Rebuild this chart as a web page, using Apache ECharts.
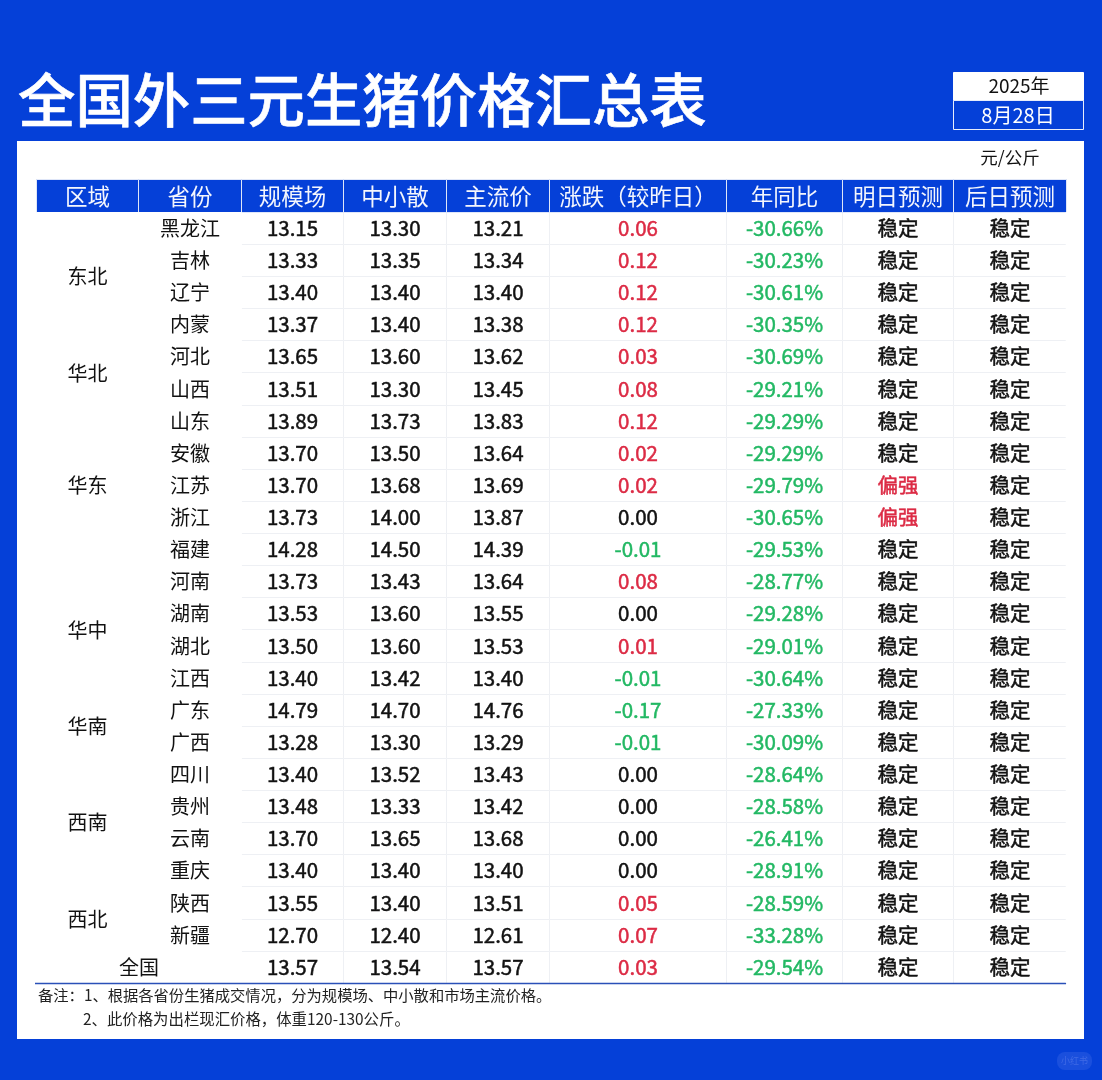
<!DOCTYPE html>
<html>
<head>
<meta charset="utf-8">
<title>全国外三元生猪价格汇总表</title>
<script src="https://cdn.jsdelivr.net/npm/echarts@6/dist/echarts.min.js"></script>
<style>
    html, body { margin: 0; padding: 0; background: #0540d8; }
    #main { width: 1102px; height: 1080px; }
</style>
</head>
<body>
<div id="main"></div>
<script>
var headers = ['区域', '省份', '规模场', '中小散', '主流价', '涨跌（较昨日）', '年同比', '明日预测', '后日预测'];
var provinces = ['黑龙江', '吉林', '辽宁', '内蒙', '河北', '山西', '山东', '安徽', '江苏', '浙江', '福建', '河南',
    '湖南', '湖北', '江西', '广东', '广西', '四川', '贵州', '云南', '重庆', '陕西', '新疆'];
// region name, first row, number of rows
var regions = [['东北', 0, 4], ['华北', 4, 2], ['华东', 6, 5], ['华中', 11, 4], ['华南', 15, 2], ['西南', 17, 4], ['西北', 21, 2]];
var totalLabel = '全国';

// the last value in each array is the 全国 row
var scaleFarm = [13.15, 13.33, 13.40, 13.37, 13.65, 13.51, 13.89, 13.70, 13.70, 13.73, 14.28, 13.73,
    13.53, 13.50, 13.40, 14.79, 13.28, 13.40, 13.48, 13.70, 13.40, 13.55, 12.70, 13.57];
var smallFarm = [13.30, 13.35, 13.40, 13.40, 13.60, 13.30, 13.73, 13.50, 13.68, 14.00, 14.50, 13.43,
    13.60, 13.60, 13.42, 14.70, 13.30, 13.52, 13.33, 13.65, 13.40, 13.40, 12.40, 13.54];
var mainPrice = [13.21, 13.34, 13.40, 13.38, 13.62, 13.45, 13.83, 13.64, 13.69, 13.87, 14.39, 13.64,
    13.55, 13.53, 13.40, 14.76, 13.29, 13.43, 13.42, 13.68, 13.40, 13.51, 12.61, 13.57];
var change = [0.06, 0.12, 0.12, 0.12, 0.03, 0.08, 0.12, 0.02, 0.02, 0.00, -0.01, 0.08,
    0.00, 0.01, -0.01, -0.17, -0.01, 0.00, 0.00, 0.00, 0.00, 0.05, 0.07, 0.03];
var yoy = [-30.66, -30.23, -30.61, -30.35, -30.69, -29.21, -29.29, -29.29, -29.79, -30.65, -29.53, -28.77,
    -29.28, -29.01, -30.64, -27.33, -30.09, -28.64, -28.58, -26.41, -28.91, -28.59, -33.28, -29.54];
var strongTomorrow = ['江苏', '浙江'];
var stable = '稳定', strong = '偏强';

var colSizes = [102, 103, 102, 103, 103, 177, 116, 111, 113];
var blue = '#0540d8', red = '#dc2a44', green = '#22b863', font = 'Noto Sans CJK SC';

var myChart = echarts.init(document.getElementById('main'));

// no medium weight installed, a thin outline in the text colour stands in for it
function cell(col, row, text, color, offsetX) {
    var c = color || '#111';
    return {
        coord: [col, row],
        value: text,
        label: {
            color: c,
            fontSize: 20.5,
            textBorderColor: c,
            textBorderWidth: 0.5,
            offset: [offsetX || 0, -0.5]
        }
    };
}

var bodyData = [];
regions.forEach(function (r) {
    bodyData.push({
        coord: [0, [r[1], r[1] + r[2] - 1]],
        mergeCells: true,
        value: r[0],
        itemStyle: { borderColor: '#fff' }
    });
});
bodyData.push({
    coord: [[0, 1], 23],
    mergeCells: true,
    value: totalLabel,
    itemStyle: { borderColor: '#fff' }
});
provinces.forEach(function (p, i) {
    bodyData.push({ coord: [1, i], value: p, itemStyle: { borderColor: '#fff' } });
});
scaleFarm.forEach(function (v, i) {
    var isStrong = strongTomorrow.indexOf(provinces[i]) >= 0;
    bodyData.push(cell(2, i, v.toFixed(2), '#111', -2));
    bodyData.push(cell(3, i, smallFarm[i].toFixed(2), '#111', -2));
    bodyData.push(cell(4, i, mainPrice[i].toFixed(2), '#111', -2));
    bodyData.push(cell(5, i, change[i].toFixed(2), change[i] > 0 ? red : change[i] < 0 ? green : '#111', -1));
    bodyData.push(cell(6, i, yoy[i].toFixed(2) + '%', green));
    bodyData.push(cell(7, i, isStrong ? strong : stable, isStrong ? red : '#111'));
    bodyData.push(cell(8, i, stable));
});

var option = {
    backgroundColor: blue,
    animation: false,
    textStyle: { fontFamily: font },
    graphic: {
        z: 0,
        elements: [
            { type: 'rect', shape: { x: 17, y: 141, width: 1067, height: 898 }, style: { fill: '#fff' } },
            { type: 'text', x: 18, y: 100, style: { text: '全国外三元生猪价格汇总表', fill: '#fff', stroke: '#fff', lineWidth: 0.6, verticalAlign: 'middle', font: '500 57.4px "Noto Sans CJK SC"' } },
            { type: 'rect', shape: { x: 953.5, y: 72.5, width: 130, height: 28 }, style: { fill: '#fff', stroke: '#fff' } },
            { type: 'rect', shape: { x: 953.5, y: 100.5, width: 130, height: 29 }, style: { fill: blue, stroke: '#e8edfb', lineWidth: 1 } },
            { type: 'text', x: 1019, y: 86, style: { text: '2025年', fill: '#111', align: 'center', verticalAlign: 'middle', font: '400 19px "Noto Sans CJK SC"' } },
            { type: 'text', x: 1018, y: 115, style: { text: '8月28日', fill: '#fff', align: 'center', verticalAlign: 'middle', font: '400 20px "Noto Sans CJK SC"' } },
            { type: 'text', x: 1010, y: 157, style: { text: '元/公斤', fill: '#111', align: 'center', verticalAlign: 'middle', font: '400 17.5px "Noto Sans CJK SC"' } },
            { type: 'text', x: 38, y: 995, style: { text: '备注：1、根据各省份生猪成交情况，分为规模场、中小散和市场主流价格。', fill: '#222', verticalAlign: 'middle', font: '400 15.3px "Noto Sans CJK SC"' } },
            { type: 'text', x: 83, y: 1019, style: { text: '2、此价格为出栏现汇价格，体重120-130公斤。', fill: '#222', verticalAlign: 'middle', font: '400 15.4px "Noto Sans CJK SC"' } },
            { type: 'rect', shape: { x: 1057, y: 1052, width: 35, height: 18, r: 8 }, style: { fill: '#1a4fdd' } },
            { type: 'text', x: 1074.5, y: 1061, style: { text: '小红书', fill: '#3f6ae6', align: 'center', verticalAlign: 'middle', font: '400 9px "Noto Sans CJK SC"' } },
            { type: 'line', z: 100, shape: { x1: 35, y1: 983.5, x2: 1066, y2: 983.5 }, style: { stroke: '#2a50b8', lineWidth: 1.5 } },
            { type: 'line', z: 100, shape: { x1: 1066.5, y1: 212, x2: 1066.5, y2: 983 }, style: { stroke: '#fff', lineWidth: 1.5 } }
        ]
    },
    matrix: {
        z: 10,
        left: 36,
        top: 179,
        width: 1030,
        height: 804,
        x: {
            levelSize: 33,
            data: headers.map(function (h, i) {
                return { value: h, size: colSizes[i] };
            }),
            label: { color: '#f4f6fd', fontSize: 22.5, fontFamily: font, fontWeight: 400 },
            itemStyle: { color: blue, borderColor: '#dfe6f8', borderWidth: 1 },
            dividerLineStyle: { color: '#dfe6f8', width: 1 }
        },
        y: {
            show: false,
            data: scaleFarm.map(function (v, i) {
                return String(i);
            })
        },
        body: {
            data: bodyData,
            label: { fontSize: 20, fontFamily: font, color: '#111' },
            itemStyle: { color: '#fff', borderColor: '#eef0f4', borderWidth: 1 }
        },
        backgroundStyle: { color: '#fff', borderWidth: 0 }
    }
};
myChart.setOption(option);
</script>
</body>
</html>
